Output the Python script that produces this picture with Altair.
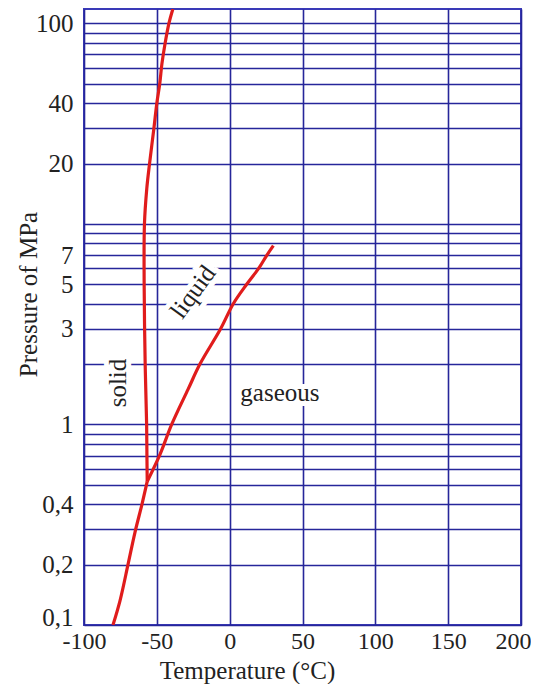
import altair as alt
import pandas as pd

# Phase boundary curves of CO2 (temperature °C, pressure MPa)
subl_T = [-80.1, -75.3, -69.8, -65.0, -60.2, -56.6]
subl_P = [0.1, 0.132, 0.2, 0.29, 0.4, 0.52]

melt_T = [-56.6, -56.8, -57.0, -58.0, -58.7, -58.5, -56.9, -55.0, -52.0, -50.0, -48.0, -46.5, -44.4, -41.7, -39.0]
melt_P = [0.52, 0.7, 1.0, 2.0, 5.0, 10.0, 15.0, 20.0, 30.0, 40.0, 50.0, 63.0, 79.0, 100.0, 118.0]

vap_T = [-56.6, -47.8, -39.8, -28.5, -20.4, -6.2, 2.5, 11.7, 19.9, 25.6, 30.0]
vap_P = [0.52, 0.71, 1.0, 1.5, 2.0, 3.0, 4.0, 5.0, 6.0, 7.0, 7.8]

# Axis ticks / grid values
x_ticks = [-100, -50, 0, 50, 100, 150, 200]
y_grid = [0.1, 0.2, 0.3, 0.4, 0.5, 0.6, 0.7, 0.8, 0.9,
          1, 2, 3, 4, 5, 6, 7, 8, 9,
          10, 20, 30, 40, 50, 60, 70, 80, 90, 100]
y_labeled = [0.1, 0.2, 0.4, 1, 3, 5, 7, 20, 40, 100]

# Region labels
region_text = ["solid", "liquid", "gaseous"]
region_T = [-76.7, -25.2, 34.5]
region_P = [1.61, 4.58, 1.44]
region_angle = [270, 306, 0]

rows = []
for name, Ts, Ps in [("sublimation", subl_T, subl_P), ("melting", melt_T, melt_P), ("vaporization", vap_T, vap_P)]:
    for i, (t, p) in enumerate(zip(Ts, Ps)):
        rows.append({"curve": name, "i": i, "T": t, "P": p})
curves = pd.DataFrame(rows)
labels = pd.DataFrame({"text": region_text, "T": region_T, "P": region_P, "angle": region_angle})

FONT = "Liberation Serif"
FS = 25
GRID = "#26269a"

xscale = alt.Scale(domain=[-100, 200], nice=False, zero=False)
yscale = alt.Scale(type="log", domain=[0.1, 118], nice=False)

label_list = ",".join(str(v) for v in y_labeled)

x_axis = alt.Axis(values=x_ticks, title="Temperature (°C)", grid=True, gridColor=GRID,
                  gridWidth=1.6, gridOpacity=1, ticks=False, domain=False,
                  labelExpr="toString(datum.value)",
                  labelOffset={"condition": {"test": "datum.value == 200", "value": -8}, "value": 0},
                  labelFont=FONT, labelFontSize=24, labelColor="#222", labelPadding=4,
                  titleFont=FONT, titleFontSize=FS, titleFontWeight="normal", titleColor="#222",
                  titleX=163, titleY=45, titleBaseline="middle", titleAnchor="middle",
                  labelFlush=False, labelOverlap=False)
y_axis = alt.Axis(values=y_grid, title="Pressure of MPa", grid=True, gridColor=GRID,
                  gridWidth=1.6, gridOpacity=1, ticks=False, domain=False, format="~g",
                  labelExpr=f"indexof([{label_list}], datum.value) >= 0 ? replace(datum.label, '.', ',') : ''",
                  labelOffset={"condition": {"test": "datum.value == 0.1", "value": -8}, "value": 0},
                  labelFont=FONT, labelFontSize=FS, labelColor="#222", labelPadding=11,
                  labelOverlap=False, labelFlush=False,
                  titleFont=FONT, titleFontSize=FS, titleFontWeight="normal", titleColor="#222",
                  titleAngle=270, titleX=-56, titleY=285, titleBaseline="middle", titleAlign="center")

lines = alt.Chart(curves).mark_line(color="#e01c1c", strokeWidth=3.2, clip=True,
                                    interpolate="catmull-rom").encode(
    x=alt.X("T:Q", scale=xscale, axis=x_axis),
    y=alt.Y("P:Q", scale=yscale, axis=y_axis),
    detail="curve:N",
    order=alt.Order("i:Q"),
)

halo = alt.Chart(labels).mark_text(font=FONT, fontSize=FS, stroke="white", strokeWidth=10,
                                   fill="white", baseline="middle", align="center").encode(
    x="T:Q", y="P:Q", text="text:N", angle=alt.Angle("angle:Q", scale=None),
)
txt = alt.Chart(labels).mark_text(font=FONT, fontSize=FS, color="#222",
                                  baseline="middle", align="center").encode(
    x="T:Q", y="P:Q", text="text:N", angle=alt.Angle("angle:Q", scale=None),
)

chart = alt.layer(halo, lines, txt).properties(
    width=437, height=616,
    autosize=alt.AutoSizeParams(type="none"),
    padding={"left": 76, "top": 1, "right": 10, "bottom": 59},
    background="white",
).configure_view(stroke="#3a3ab8", strokeWidth=2)

chart.save("out.html", embed_options={"renderer": "svg", "actions": False})
